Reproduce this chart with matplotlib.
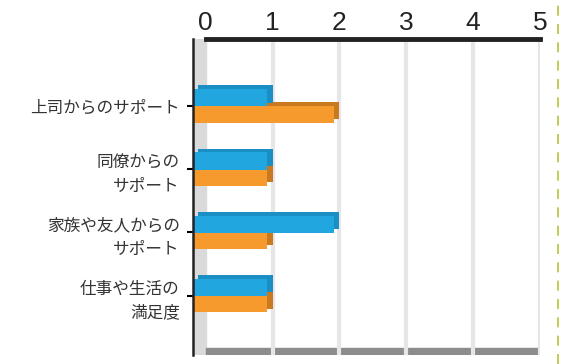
import numpy as np
import matplotlib
matplotlib.use("Agg")
from matplotlib import pyplot as plt
from matplotlib.lines import Line2D

plt.rcParams['font.family'] = ['Noto Sans CJK JP', 'DejaVu Sans']

categories = ["上司からのサポート", "同僚からの\nサポート", "家族や友人からの\nサポート", "仕事や生活の\n満足度"]
blue_vals = [1, 1, 2, 1]
orange_vals = [2, 1, 1, 1]
x_ticks = [0, 1, 2, 3, 4, 5]

blue, blue_dark = "#22a6e0", "#1b8fc4"
orange, orange_dark = "#f79a2e", "#c97a20"

fig = plt.figure(figsize=(5.73, 3.64), dpi=100)
ax = fig.add_axes([193 / 573, 1 - 355 / 364, 347 / 573, (355 - 39) / 364])

pos = np.arange(len(categories))
h = 0.27
off = 0.13
wall = -0.19
dx, dy = 0.08, 0.06

# back wall and floor
ax.axvspan(wall, 0, color="#dadada", zorder=0)
ax.axhspan(3.83, 3.94, xmin=-wall / (5 - wall), xmax=1, color="#8c8c8c", zorder=0)
for t in x_ticks[1:]:
    ax.axvline(t, color="#e6e6e6", lw=3, zorder=0.5)


def bars3d(vals, ypos, front, side):
    vals = np.array(vals, dtype=float)
    ax.barh(ypos - dy, vals - (wall + dx), left=wall + dx, height=h, color=side, zorder=2)
    ax.barh(ypos, vals - dx - wall, left=wall, height=h, color=front, zorder=2)


bars3d(orange_vals, pos + off, orange, orange_dark)
bars3d(blue_vals, pos - off, blue, blue_dark)

ax.set_xlim(wall, 5)
ax.set_ylim(3.94, -1.06)
ax.set_xticks(x_ticks)
ax.set_yticks(pos)
ax.set_yticklabels(categories, fontsize=12, ha="right", linespacing=1.5, color="#333333")
ax.tick_params(axis="y", direction="inout", length=9, width=1.5, pad=5)
ax.xaxis.tick_top()
ax.tick_params(axis="x", length=0, pad=3)
for lab in ax.get_xticklabels():
    lab.set_fontfamily(["Liberation Sans Narrow", "Liberation Sans"])
    lab.set_fontsize(19)
    lab.set_color("#222222")
ax.spines["right"].set_visible(False)
ax.spines["bottom"].set_visible(False)
ax.spines["top"].set_bounds(0, 5)
ax.spines["top"].set_linewidth(3.5)
ax.spines["left"].set_linewidth(1.8)
ax.spines["top"].set_color("#222222")
ax.spines["left"].set_color("#222222")

fig.add_artist(Line2D([558 / 573, 558 / 573], [0, 1], transform=fig.transFigure,
                      color="#b9c23a", lw=1.2, ls=(0, (6, 5))))

fig.savefig("out.png", dpi=100)
